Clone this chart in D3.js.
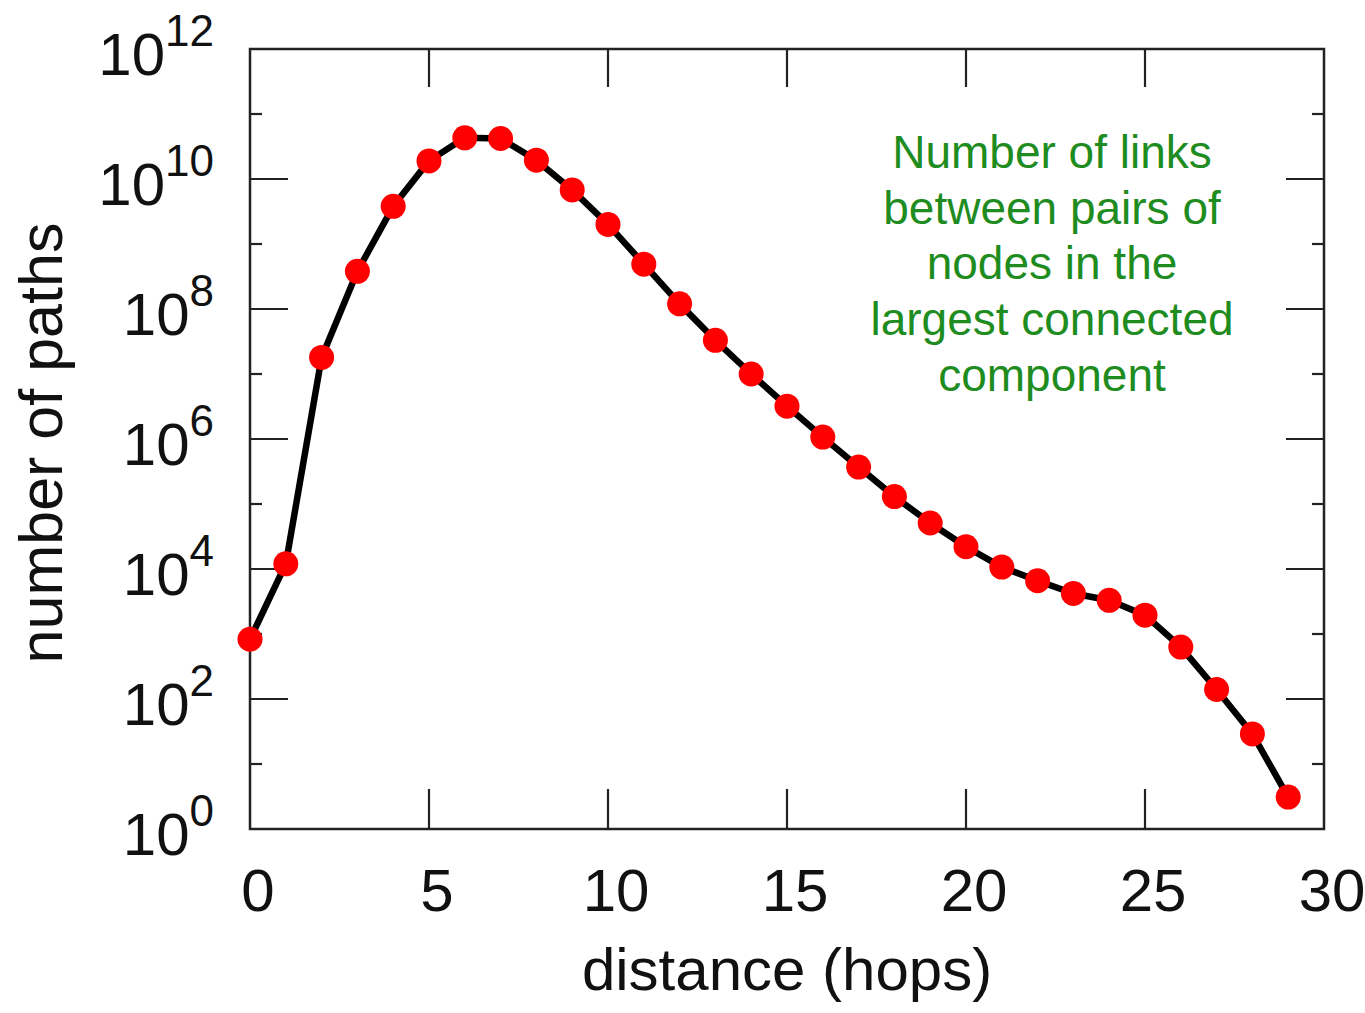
<!DOCTYPE html>
<html>
<head>
<meta charset="utf-8">
<script src="https://cdn.jsdelivr.net/npm/d3@7"></script>
<style>
  body { margin: 0; background: #fff; }
  svg { display: block; font-family: 'Liberation Sans', Arial, sans-serif; }
</style>
</head>
<body>
<svg id="chart" width="1365" height="1013"></svg>
<script>
// hops 0..29 and number of paths
const hops = d3.range(0, 30);
const paths = [
  830, 1.2e4, 1.8e7, 3.8e8, 3.8e9, 1.9e10, 4.3e10, 4.2e10, 1.95e10, 6.8e9,
  2.0e9, 4.9e8, 1.2e8, 3.3e7, 1.0e7, 3.2e6, 1.07e6, 3.7e5, 1.3e5, 5.1e4,
  2.2e4, 1.07e4, 6.6e3, 4.2e3, 3.3e3, 1.95e3, 630, 140, 29, 3.1,
];
const xTicks = [0, 5, 10, 15, 20, 25, 30];
const yExponents = d3.range(0, 13);
const noteLines = [
  'Number of links',
  'between pairs of',
  'nodes in the',
  'largest connected',
  'component',
];

const margin = { top: 49, right: 41, bottom: 184, left: 250 };
const width = 1365 - margin.left - margin.right;
const height = 1013 - margin.top - margin.bottom;

const svg = d3.select('#chart');
const g = svg.append('g').attr('transform', `translate(${margin.left},${margin.top})`);

const x = d3.scaleLinear().domain([0, 30]).range([0, width]);
const y = d3.scaleLog().domain([1, 1e12]).range([height, 0]);

const axisColor = '#222';

// ticks on all four sides, pointing inward
const longTick = 38;
const shortTick = 12;
const inner = xTicks.filter((d) => d > 0 && d < 30);
g.selectAll('line.xb').data(inner).join('line')
  .attr('x1', (d) => x(d)).attr('x2', (d) => x(d))
  .attr('y1', height).attr('y2', height - 40)
  .attr('stroke', axisColor).attr('stroke-width', 2.2);
g.selectAll('line.xt').data(inner).join('line')
  .attr('x1', (d) => x(d)).attr('x2', (d) => x(d))
  .attr('y1', 0).attr('y2', longTick)
  .attr('stroke', axisColor).attr('stroke-width', 2.2);

const yInner = yExponents.filter((e) => e > 0 && e < 12);
[0, width].forEach((side) => {
  const dir = side === 0 ? 1 : -1;
  g.selectAll(null).data(yInner).join('line')
    .attr('x1', side)
    .attr('x2', (e) => side + dir * (e % 2 === 0 ? longTick : shortTick))
    .attr('y1', (e) => y(10 ** e)).attr('y2', (e) => y(10 ** e))
    .attr('stroke', axisColor).attr('stroke-width', 2.2);
});

// frame
g.append('rect')
  .attr('width', width).attr('height', height)
  .attr('fill', 'none').attr('stroke', axisColor).attr('stroke-width', 2.5);

// x tick labels
g.selectAll('text.xl').data(xTicks).join('text')
  .attr('x', (d) => x(d) + 8)
  .attr('y', height + 82)
  .attr('text-anchor', 'middle')
  .attr('font-size', 60)
  .attr('fill', '#111')
  .text((d) => d);

// y tick labels, 10 with superscript exponent
const yl = g.selectAll('text.yl').data(yExponents.filter((e) => e % 2 === 0)).join('text')
  .attr('x', -36)
  .attr('y', (e) => y(10 ** e) + 26)
  .attr('text-anchor', 'end')
  .attr('fill', '#111');
yl.append('tspan').attr('font-size', 60).text('10');
yl.append('tspan').attr('font-size', 44).attr('dy', -29).text((e) => e);

// axis titles
g.append('text')
  .attr('x', width / 2)
  .attr('y', height + 161)
  .attr('text-anchor', 'middle')
  .attr('font-size', 60)
  .attr('fill', '#111')
  .text('distance (hops)');

g.append('text')
  .attr('transform', `translate(${62 - margin.left},${height / 2 + 4}) rotate(-90)`)
  .attr('text-anchor', 'middle')
  .attr('font-size', 61)
  .attr('fill', '#111')
  .text('number of paths');

// line + markers
const data = hops.map((h, i) => ({ h, v: paths[i] }));
const line = d3.line()
  .x((d) => x(d.h))
  .y((d) => y(d.v));

g.append('path')
  .datum(data)
  .attr('d', line)
  .attr('fill', 'none')
  .attr('stroke', '#000')
  .attr('stroke-width', 6.5)
  .attr('stroke-linejoin', 'round');

g.selectAll('circle').data(data).join('circle')
  .attr('cx', (d) => x(d.h))
  .attr('cy', (d) => y(d.v))
  .attr('r', 12.5)
  .attr('fill', '#ff0000');

// annotation
g.append('text')
  .attr('text-anchor', 'middle')
  .attr('font-size', 46)
  .attr('fill', '#1e8c1e')
  .selectAll('tspan')
  .data(noteLines)
  .join('tspan')
  .attr('x', 1052 - margin.left)
  .attr('y', (d, i) => 168 - margin.top + i * 55.7)
  .text((d) => d);
</script>
</body>
</html>
